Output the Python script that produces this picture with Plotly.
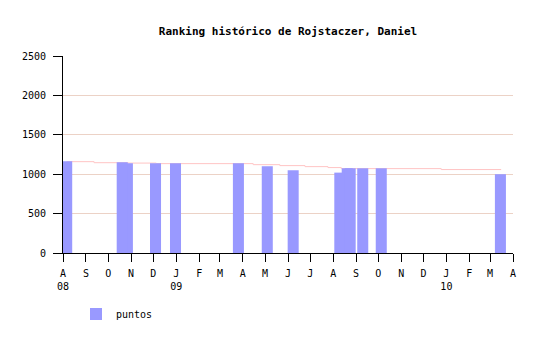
import plotly.graph_objects as go

# ---- data ----
bar_dates = ["2008-08-06", "2008-10-27", "2008-10-20", "2008-12-04", "2008-12-31",
             "2009-03-26", "2009-05-04", "2009-06-08", "2009-08-10", "2009-08-20",
             "2009-08-24", "2009-09-10", "2009-10-05", "2010-03-15"]
bar_values = [1165, 1138, 1152, 1138, 1138,
              1138, 1100, 1050, 1020, 1075,
              1075, 1075, 1075, 1000]

trend_dates = ["2008-08-06", "2008-09-12", "2008-10-28", "2008-12-05", "2009-04-15",
               "2009-05-21", "2009-06-24", "2009-07-25", "2009-08-12", "2009-12-25",
               "2010-03-16"]
trend_values = [1159, 1146, 1141, 1134, 1121,
                1109, 1096, 1084, 1071, 1059,
                1059]

tick_dates = ["2008-08-01", "2008-09-01", "2008-10-01", "2008-11-01", "2008-12-01",
              "2009-01-01", "2009-02-01", "2009-03-01", "2009-04-01", "2009-05-01",
              "2009-06-01", "2009-07-01", "2009-08-01", "2009-09-01", "2009-10-01",
              "2009-11-01", "2009-12-01", "2010-01-01", "2010-02-01", "2010-03-01",
              "2010-04-01"]
tick_labels = ["A<br>08", "S", "O", "N", "D", "J<br>09", "F", "M", "A", "M",
               "J", "J", "A", "S", "O", "N", "D", "J<br>10", "F", "M", "A"]

y_ticks = [0, 500, 1000, 1500, 2000, 2500]

x_range = ["2008-08-01", "2010-04-01"]
y_range = [0, 2500]

FONT = "DejaVu Sans Mono"
BAR_WIDTH_MS = 14.9 * 86400000

fig = go.Figure()

fig.add_trace(go.Scatter(
    x=trend_dates, y=trend_values, mode="lines",
    line=dict(color="#ffc4c4", width=1, shape="hv"),
    showlegend=False, hoverinfo="skip",
    xaxis="x", yaxis="y",
))

fig.add_trace(go.Bar(
    x=bar_dates, y=bar_values, name="puntos",
    width=[BAR_WIDTH_MS] * len(bar_dates),
    marker=dict(color="#9999ff", line=dict(width=0)),
    xaxis="x2", yaxis="y2",
))

fig.update_layout(
    width=540, height=340,
    margin=dict(l=63, r=27, t=56, b=84),
    paper_bgcolor="white", plot_bgcolor="white",
    font=dict(family=FONT, size=10, color="black"),
    barmode="overlay",
    title=dict(text="<b>Ranking histórico de Rojstaczer, Daniel</b>",
               x=0.5, xref="paper", xanchor="center",
               y=1 - 31 / 340, yref="container", yanchor="middle",
               font=dict(family=FONT, size=11, color="black")),
    xaxis=dict(type="date", range=x_range,
               tickmode="array", tickvals=tick_dates, ticktext=tick_labels,
               ticks="outside", ticklen=8, tickwidth=1, tickcolor="black",
               ticklabelstandoff=3,
               showline=True, linecolor="black", linewidth=1,
               showgrid=False, zeroline=False, tickangle=0,
               tickfont=dict(family=FONT, size=10, color="black")),
    yaxis=dict(range=y_range, tickmode="array", tickvals=y_ticks,
               ticks="outside", ticklen=9, tickwidth=1, tickcolor="black",
               ticklabelstandoff=5,
               showline=True, linecolor="black", linewidth=1,
               showgrid=True, gridcolor="#ecd2c6", gridwidth=1,
               zeroline=False,
               tickfont=dict(family=FONT, size=10, color="black")),
    xaxis2=dict(type="date", range=x_range, overlaying="x", anchor="y2",
                visible=False, showgrid=False, zeroline=False),
    yaxis2=dict(range=y_range, overlaying="y", anchor="x2",
                visible=False, showgrid=False, zeroline=False),
    showlegend=True,
    legend=dict(orientation="h", x=(76 - 63) / 450, xanchor="left",
                y=(256 - 318) / 200, yanchor="middle",
                font=dict(family=FONT, size=10, color="black"),
                bgcolor="rgba(0,0,0,0)", borderwidth=0),
)

fig.write_html("out.html")
